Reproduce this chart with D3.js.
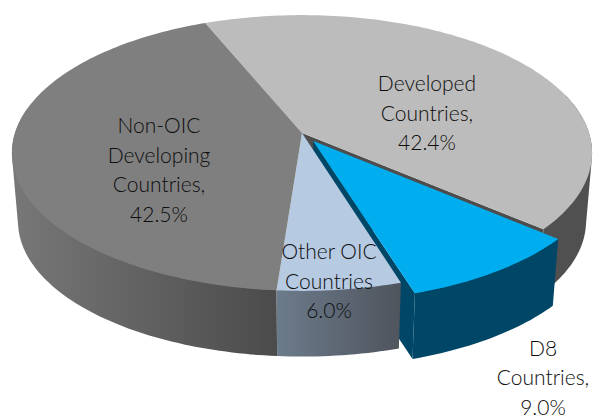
<!DOCTYPE html>
<html>
<head>
<meta charset="utf-8">
<style>
  html, body { margin: 0; padding: 0; background: #fff; overflow: hidden; }
  text { font-family: Lato, "Open Sans", sans-serif; font-weight: 300; font-size: 21px; fill: #0e0e0e; }
</style>
<script src="https://cdn.jsdelivr.net/npm/d3@7"></script>
</head>
<body>
<div id="chart-container"></div>
<script>
// Chart values, clockwise from the Non-OIC / Developed boundary.
const categories = ["Developed", "D8", "Other OIC", "Non-OIC Developing"];
const shares = [42.4, 9.0, 6.0, 42.5];
const labelLines = [
  ["Developed", "Countries,", "42.4%"],
  ["D8", "Countries,", "9.0%"],
  ["Other OIC", "Countries", "6.0%"],
  ["Non-OIC", "Developing", "Countries,", "42.5%"]
];

// Styling and layout, per category.
const topColors = ["#bcbcbc", "#00aeef", "#b6cae2", "#7f7f7f"];
const labelAt = [[427, 91], [543, 355.5], [329, 259], [159, 133]];
const lineHeight = 29.5;

const fWidth = 593, fHeight = 419;

// Perspective of the tilted disc.
const centre = { x: 302, y: 133 },
  radiusX = 287,
  radiusY = 135,
  perspective = 0.145,
  startAngle = -22.5 * Math.PI / 180,
  explode = 0.07;

// Bottom rim of the pie sits lower and is a bit smaller.
const depth = { dy: 69, sx: 0.979, sy: 0.979 };

const xScale = d3.scaleLinear().domain([-1, 1]).range([centre.x - radiusX, centre.x + radiusX]);
const yScale = d3.scaleLinear().domain([-1, 1]).range([centre.y - radiusY, centre.y + radiusY]);
const xBottom = d3.scaleLinear().domain([-1, 1]).range([centre.x - radiusX * depth.sx, centre.x + radiusX * depth.sx]);
const yBottom = d3.scaleLinear().domain([-1, 1]).range([centre.y + depth.dy - radiusY * depth.sy, centre.y + depth.dy + radiusY * depth.sy]);

// Disc coordinate -> screen. u is right, v is towards the viewer.
function project(u, v, bottom) {
  const w = 1 / (1 - perspective * v);
  return bottom
    ? [xBottom(u * w), yBottom(v * w)]
    : [xScale(u * w), yScale(v * w)];
}

function discPoint(angle, r, off) {
  return [r * Math.sin(angle) + off[0], -r * Math.cos(angle) + off[1]];
}

function rimX(angle) {
  const p = discPoint(angle, 1, [0, 0]);
  return project(p[0], p[1], false)[0];
}

function arcPoints(a0, a1, off, bottom) {
  const n = Math.max(2, Math.ceil(Math.abs(a1 - a0) / 0.02));
  return d3.range(n + 1).map(i => {
    const p = discPoint(a0 + (a1 - a0) * i / n, 1, off);
    return project(p[0], p[1], bottom);
  });
}

const pathGen = d3.line();

const pieGen = d3.pie().sort(null).startAngle(startAngle).endAngle(startAngle + 2 * Math.PI);
const slices = pieGen(shares);

const chartCanvas = d3.select("#chart-container").append("svg")
  .attr("width", fWidth)
  .attr("height", fHeight)
  .style("display", "block");

// Side wall gradients.
const defs = chartCanvas.append("defs");
function wallGradient(id, x1, x2, from, to) {
  const g = defs.append("linearGradient").attr("id", id)
    .attr("gradientUnits", "userSpaceOnUse")
    .attr("x1", x1).attr("x2", x2).attr("y1", 0).attr("y2", 0);
  g.append("stop").attr("offset", 0).attr("stop-color", from);
  g.append("stop").attr("offset", 1).attr("stop-color", to);
}
wallGradient("wall-nonoic", xScale(-1), rimX(slices[3].startAngle), "#777777", "#4b4b4b");
wallGradient("wall-other", rimX(slices[2].endAngle), rimX(slices[2].startAngle), "#6c7b8b", "#4f545d");

// Hull of both rims, the part inside the top face gets painted over later.
function wallPath(a0, a1, off) {
  return pathGen(d3.polygonHull(arcPoints(a0, a1, off, false).concat(arcPoints(a0, a1, off, true)))) + "Z";
}

function cutPath(angle, off) {
  const edge = discPoint(angle, 1, off);
  return pathGen([
    project(off[0], off[1], false),
    project(edge[0], edge[1], false),
    project(edge[0], edge[1], true),
    project(off[0], off[1], true)
  ]) + "Z";
}

function topPath(d, off) {
  return pathGen([project(off[0], off[1], false)].concat(arcPoints(d.startAngle, d.endAngle, off, false))) + "Z";
}

const noOffset = [0, 0];
const d8Mid = (slices[1].startAngle + slices[1].endAngle) / 2;
const d8Offset = [explode * Math.sin(d8Mid), -explode * Math.cos(d8Mid)];

const walls = chartCanvas.append("g").attr("id", "chart-walls");

// Back to front: walls that stay connected, then the exploded slice.
walls.append("path")
  .attr("d", wallPath(slices[3].endAngle - 1.0, slices[3].startAngle, noOffset))
  .attr("fill", "url(#wall-nonoic)");
walls.append("path")
  .attr("d", wallPath(slices[0].endAngle - 1.0, slices[0].endAngle, noOffset))
  .attr("fill", "#505050");
walls.append("path")
  .attr("d", cutPath(slices[0].endAngle, noOffset))
  .attr("fill", "#4d4d4d");
walls.append("path")
  .attr("d", cutPath(slices[1].endAngle, d8Offset))
  .attr("fill", "#004666");
walls.append("path")
  .attr("d", wallPath(slices[1].startAngle, slices[1].endAngle, d8Offset))
  .attr("fill", "#004666");
walls.append("path")
  .attr("d", wallPath(slices[2].startAngle, slices[2].endAngle, noOffset))
  .attr("fill", "url(#wall-other)");

// Top faces.
chartCanvas.append("g").attr("id", "chart-tops")
  .selectAll("path")
  .data(slices)
  .enter()
  .append("path")
    .attr("d", (d, i) => topPath(d, i === 1 ? d8Offset : noOffset))
    .attr("fill", (d, i) => topColors[i]);

// Data labels.
const labels = chartCanvas.append("g").attr("id", "chart-labels")
  .selectAll("text")
  .data(categories)
  .enter()
  .append("text")
    .attr("text-anchor", "middle")
    .attr("x", (d, i) => labelAt[i][0])
    .attr("y", (d, i) => labelAt[i][1]);

labels.selectAll("tspan")
  .data((d, i) => labelLines[i].map(line => ({ line, x: labelAt[i][0] })))
  .enter()
  .append("tspan")
    .attr("x", d => d.x)
    .attr("dy", (d, i) => i === 0 ? 0 : lineHeight)
    .text(d => d.line);
</script>
</body>
</html>
